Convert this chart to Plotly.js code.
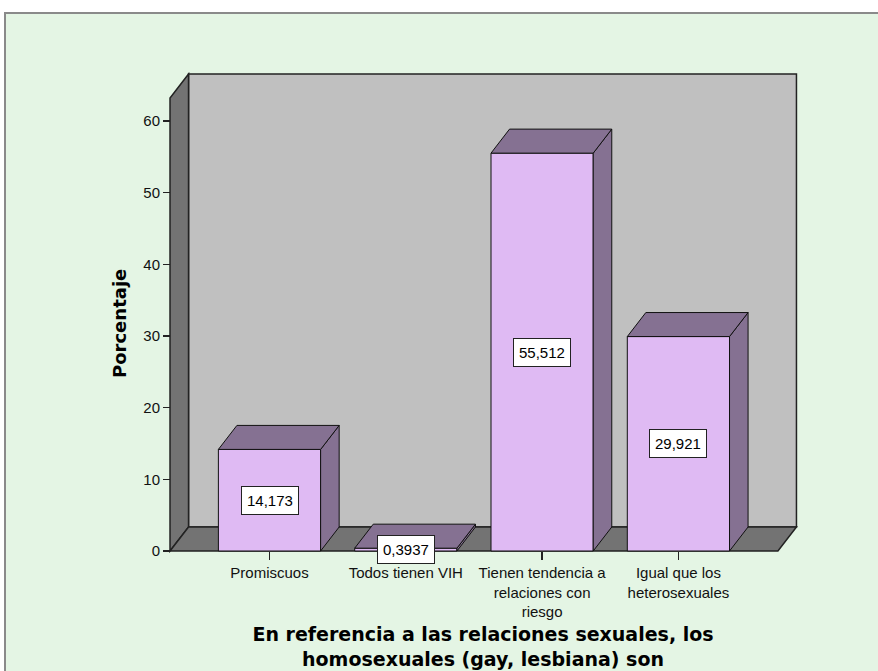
<!DOCTYPE html>
<html><head><meta charset="utf-8">
<script src="https://cdn.plot.ly/plotly-3.0.1.min.js"></script>
<style>html,body{margin:0;padding:0;background:#fff}</style>
</head><body><div id="chart" style="width:878px;height:671px"></div>
<script>
// ---- data ----
const categories = ["Promiscuos", "Todos tienen VIH", "Tienen tendencia a relaciones con riesgo", "Igual que los heterosexuales"];
const tickLabels = ["Promiscuos", "Todos tienen VIH", "Tienen tendencia a<br>relaciones con<br>riesgo", "Igual que los<br>heterosexuales"];
const percentages = [14.173, 0.3937, 55.512, 29.921];
const yTicks = [0, 10, 20, 30, 40, 50, 60];
const xTitle = "En referencia a las relaciones sexuales, los<br>homosexuales (gay, lesbiana) son";
const yTitle = "Porcentaje";

// ---- layout geometry (pixels of the plot area & 3D look) ----
const W = 878, H = 671;
const L = 166, R = 800, T = 70, B = 555;
const xRange = [-0.7594, 3.892];
const yRange = [-0.558, 67.11];
const barW = 0.75, dX = 0.136, dY = 3.35;
const wallX0 = -0.73, wallX1 = 3.73, wallTop = 63.2;

const idx = categories.map((c, i) => i);
const valueLabels = percentages.map(v => String(v).replace('.', ','));

// paper helpers
const px2paperX = p => (p - L) / (R - L);
const px2paperY = p => (B - p) / (B - T);

// faces of the bars
const topX = [], topY = [], sideX = [], sideY = [];
idx.forEach(i => {
  const v = percentages[i];
  const x0 = i - barW / 2, x1 = i + barW / 2;
  topX.push(x0, x1, x1 + dX, x0 + dX, x0, null);
  topY.push(v, v, v + dY, v + dY, v, null);
  sideX.push(x1, x1, x1 + dX, x1 + dX, x1, null);
  sideY.push(0, v, v + dY, dY, 0, null);
});

const traces = [
  {type: 'scatter', mode: 'lines', x: sideX, y: sideY, fill: 'toself', fillcolor: '#857192',
   line: {color: '#111', width: 1}, hoverinfo: 'skip', showlegend: false},
  {type: 'scatter', mode: 'lines', x: topX, y: topY, fill: 'toself', fillcolor: '#857192',
   line: {color: '#111', width: 1}, hoverinfo: 'skip', showlegend: false},
  {type: 'bar', x: idx, y: percentages, width: barW, text: categories, hoverinfo: 'y+text',
   textposition: 'none',
   marker: {color: '#dfbaf3', line: {color: '#111', width: 1}}, showlegend: false}
];

const shapes = [
  {type: 'rect', xref: 'paper', yref: 'paper', layer: 'below',
   x0: px2paperX(5), x1: px2paperX(900), y0: px2paperY(700), y1: px2paperY(13),
   fillcolor: '#e4f5e4', line: {color: '#8a8a8a', width: 2}},
  {type: 'rect', xref: 'x', yref: 'y', layer: 'below',
   x0: wallX0 + dX, x1: wallX1 + dX, y0: dY, y1: wallTop + dY,
   fillcolor: '#c0c0c0', line: {color: '#222', width: 1.5}},
  {type: 'path', xref: 'x', yref: 'y', layer: 'below',
   path: `M${wallX0},0 L${wallX0},${wallTop} L${wallX0 + dX},${wallTop + dY} L${wallX0 + dX},${dY} Z`,
   fillcolor: '#737373', line: {color: '#222', width: 1.5}},
  {type: 'path', xref: 'x', yref: 'y', layer: 'below',
   path: `M${wallX0},0 L${wallX1},0 L${wallX1 + dX},${dY} L${wallX0 + dX},${dY} Z`,
   fillcolor: '#737373', line: {color: '#222', width: 1.5}}
];

const annotations = idx.map(i => ({
  x: i, y: percentages[i] / 2, xref: 'x', yref: 'y', text: valueLabels[i], showarrow: false,
  bgcolor: '#ffffff', bordercolor: '#222', borderwidth: 1, borderpad: 5,
  font: {family: 'Liberation Sans, Arial, sans-serif', size: 15, color: '#000'}
}));
annotations.push({
  x: px2paperX(119), y: px2paperY(324), xref: 'paper', yref: 'paper', text: yTitle,
  textangle: -90, showarrow: false, xanchor: 'center', yanchor: 'middle',
  font: {family: 'DejaVu Sans, sans-serif', size: 18, weight: 'bold', color: '#000'}
});

const tickFont = {family: 'Liberation Sans, Arial, sans-serif', size: 15, color: '#111'};

const layout = {
  width: W, height: H,
  margin: {l: L, r: W - R, t: T, b: H - B, pad: 0},
  paper_bgcolor: '#ffffff', plot_bgcolor: 'rgba(0,0,0,0)',
  showlegend: false, bargap: 0,
  xaxis: {
    range: xRange, tickmode: 'array', tickvals: idx, ticktext: tickLabels,
    ticks: 'outside', ticklen: 8, tickwidth: 1.5, tickcolor: '#222',
    showgrid: false, zeroline: false, showline: false, fixedrange: true,
    anchor: 'free', position: (0 - yRange[0]) / (yRange[1] - yRange[0]),
    tickfont: tickFont,
    title: {text: xTitle, standoff: 8,
            font: {family: 'DejaVu Sans, sans-serif', size: 19, weight: 'bold', color: '#000'}}
  },
  yaxis: {
    range: yRange, tickmode: 'array', tickvals: yTicks,
    ticks: 'outside', ticklen: 7, tickwidth: 1.5, tickcolor: '#222',
    showgrid: false, zeroline: false, showline: false, fixedrange: true,
    anchor: 'free', position: (wallX0 - xRange[0]) / (xRange[1] - xRange[0]),
    tickfont: tickFont,
    title: {text: ''}
  },
  shapes: shapes,
  annotations: annotations
};

Plotly.newPlot('chart', traces, layout, {displayModeBar: false, staticPlot: true});
</script>
</body></html>
